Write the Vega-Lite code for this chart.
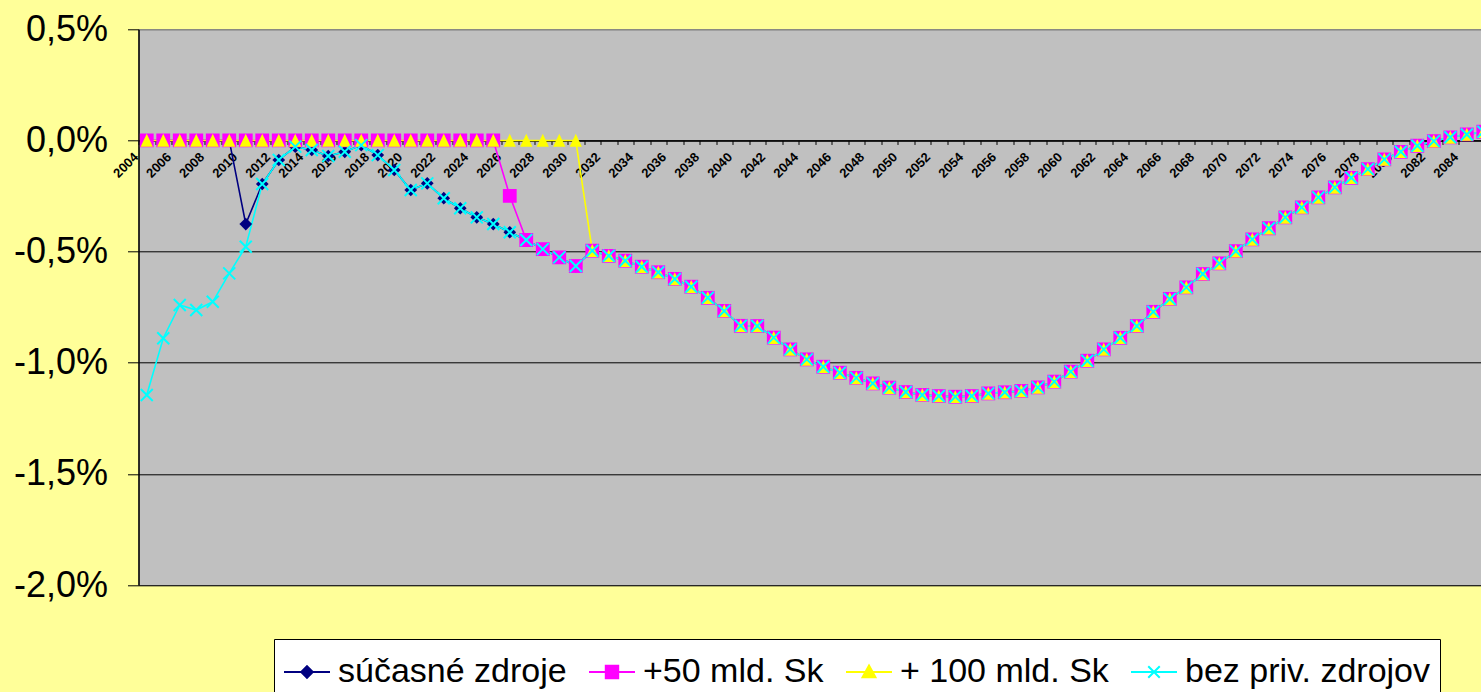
{
"$schema": "https://vega.github.io/schema/vega-lite/v6.json",
"width": 1342.5,
"height": 555.7,
"autosize": "none",
"padding": {"left": 138.5, "top": 29.3, "right": 0, "bottom": 107},
"background": "#FFFF99",
"config": {"view": {"fill": "#C0C0C0", "stroke": "#808080", "strokeWidth": 1}, "font": "Liberation Sans"},
"data": {"values": [
{"year":2004,"series":"súčasné zdroje","value":0},{"year":2005,"series":"súčasné zdroje","value":0},{"year":2006,"series":"súčasné zdroje","value":0},{"year":2007,"series":"súčasné zdroje","value":0},{"year":2008,"series":"súčasné zdroje","value":0},{"year":2009,"series":"súčasné zdroje","value":0},{"year":2010,"series":"súčasné zdroje","value":-0.376},{"year":2011,"series":"súčasné zdroje","value":-0.196},{"year":2012,"series":"súčasné zdroje","value":-0.088},{"year":2013,"series":"súčasné zdroje","value":-0.028},{"year":2014,"series":"súčasné zdroje","value":-0.043},{"year":2015,"series":"súčasné zdroje","value":-0.07},{"year":2016,"series":"súčasné zdroje","value":-0.051},{"year":2017,"series":"súčasné zdroje","value":-0.021},{"year":2018,"series":"súčasné zdroje","value":-0.066},{"year":2019,"series":"súčasné zdroje","value":-0.133},{"year":2020,"series":"súčasné zdroje","value":-0.223},{"year":2021,"series":"súčasné zdroje","value":-0.193},{"year":2022,"series":"súčasné zdroje","value":-0.26},{"year":2023,"series":"súčasné zdroje","value":-0.305},{"year":2024,"series":"súčasné zdroje","value":-0.346},{"year":2025,"series":"súčasné zdroje","value":-0.376},{"year":2026,"series":"súčasné zdroje","value":-0.413},{"year":2027,"series":"súčasné zdroje","value":-0.448},{"year":2028,"series":"súčasné zdroje","value":-0.489},{"year":2029,"series":"súčasné zdroje","value":-0.526},{"year":2030,"series":"súčasné zdroje","value":-0.565},{"year":2031,"series":"súčasné zdroje","value":-0.496},{"year":2032,"series":"súčasné zdroje","value":-0.519},{"year":2033,"series":"súčasné zdroje","value":-0.541},{"year":2034,"series":"súčasné zdroje","value":-0.568},{"year":2035,"series":"súčasné zdroje","value":-0.593},{"year":2036,"series":"súčasné zdroje","value":-0.623},{"year":2037,"series":"súčasné zdroje","value":-0.658},{"year":2038,"series":"súčasné zdroje","value":-0.708},{"year":2039,"series":"súčasné zdroje","value":-0.767},{"year":2040,"series":"súčasné zdroje","value":-0.834},{"year":2041,"series":"súčasné zdroje","value":-0.835},{"year":2042,"series":"súčasné zdroje","value":-0.887},{"year":2043,"series":"súčasné zdroje","value":-0.94},{"year":2044,"series":"súčasné zdroje","value":-0.985},{"year":2045,"series":"súčasné zdroje","value":-1.018},{"year":2046,"series":"súčasné zdroje","value":-1.045},{"year":2047,"series":"súčasné zdroje","value":-1.068},{"year":2048,"series":"súčasné zdroje","value":-1.093},{"year":2049,"series":"súčasné zdroje","value":-1.112},{"year":2050,"series":"súčasné zdroje","value":-1.132},{"year":2051,"series":"súčasné zdroje","value":-1.145},{"year":2052,"series":"súčasné zdroje","value":-1.15},{"year":2053,"series":"súčasné zdroje","value":-1.153},{"year":2054,"series":"súčasné zdroje","value":-1.15},{"year":2055,"series":"súčasné zdroje","value":-1.138},{"year":2056,"series":"súčasné zdroje","value":-1.133},{"year":2057,"series":"súčasné zdroje","value":-1.127},{"year":2058,"series":"súčasné zdroje","value":-1.111},{"year":2059,"series":"súčasné zdroje","value":-1.085},{"year":2060,"series":"súčasné zdroje","value":-1.04},{"year":2061,"series":"súčasné zdroje","value":-0.991},{"year":2062,"series":"súčasné zdroje","value":-0.94},{"year":2063,"series":"súčasné zdroje","value":-0.888},{"year":2064,"series":"súčasné zdroje","value":-0.835},{"year":2065,"series":"súčasné zdroje","value":-0.771},{"year":2066,"series":"súčasné zdroje","value":-0.713},{"year":2067,"series":"súčasné zdroje","value":-0.661},{"year":2068,"series":"súčasné zdroje","value":-0.601},{"year":2069,"series":"súčasné zdroje","value":-0.553},{"year":2070,"series":"súčasné zdroje","value":-0.498},{"year":2071,"series":"súčasné zdroje","value":-0.445},{"year":2072,"series":"súčasné zdroje","value":-0.395},{"year":2073,"series":"súčasné zdroje","value":-0.346},{"year":2074,"series":"súčasné zdroje","value":-0.301},{"year":2075,"series":"súčasné zdroje","value":-0.256},{"year":2076,"series":"súčasné zdroje","value":-0.211},{"year":2077,"series":"súčasné zdroje","value":-0.168},{"year":2078,"series":"súčasné zdroje","value":-0.129},{"year":2079,"series":"súčasné zdroje","value":-0.085},{"year":2080,"series":"súčasné zdroje","value":-0.051},{"year":2081,"series":"súčasné zdroje","value":-0.024},{"year":2082,"series":"súčasné zdroje","value":-0.003},{"year":2083,"series":"súčasné zdroje","value":0.014},{"year":2084,"series":"súčasné zdroje","value":0.027},{"year":2085,"series":"súčasné zdroje","value":0.039},
{"year":2004,"series":"+50 mld. Sk","value":0},{"year":2005,"series":"+50 mld. Sk","value":0},{"year":2006,"series":"+50 mld. Sk","value":0},{"year":2007,"series":"+50 mld. Sk","value":0},{"year":2008,"series":"+50 mld. Sk","value":0},{"year":2009,"series":"+50 mld. Sk","value":0},{"year":2010,"series":"+50 mld. Sk","value":0},{"year":2011,"series":"+50 mld. Sk","value":0},{"year":2012,"series":"+50 mld. Sk","value":0},{"year":2013,"series":"+50 mld. Sk","value":0},{"year":2014,"series":"+50 mld. Sk","value":0},{"year":2015,"series":"+50 mld. Sk","value":0},{"year":2016,"series":"+50 mld. Sk","value":0},{"year":2017,"series":"+50 mld. Sk","value":0},{"year":2018,"series":"+50 mld. Sk","value":0},{"year":2019,"series":"+50 mld. Sk","value":0},{"year":2020,"series":"+50 mld. Sk","value":0},{"year":2021,"series":"+50 mld. Sk","value":0},{"year":2022,"series":"+50 mld. Sk","value":0},{"year":2023,"series":"+50 mld. Sk","value":0},{"year":2024,"series":"+50 mld. Sk","value":0},{"year":2025,"series":"+50 mld. Sk","value":0},{"year":2026,"series":"+50 mld. Sk","value":-0.249},{"year":2027,"series":"+50 mld. Sk","value":-0.448},{"year":2028,"series":"+50 mld. Sk","value":-0.489},{"year":2029,"series":"+50 mld. Sk","value":-0.526},{"year":2030,"series":"+50 mld. Sk","value":-0.565},{"year":2031,"series":"+50 mld. Sk","value":-0.496},{"year":2032,"series":"+50 mld. Sk","value":-0.519},{"year":2033,"series":"+50 mld. Sk","value":-0.541},{"year":2034,"series":"+50 mld. Sk","value":-0.568},{"year":2035,"series":"+50 mld. Sk","value":-0.593},{"year":2036,"series":"+50 mld. Sk","value":-0.623},{"year":2037,"series":"+50 mld. Sk","value":-0.658},{"year":2038,"series":"+50 mld. Sk","value":-0.708},{"year":2039,"series":"+50 mld. Sk","value":-0.767},{"year":2040,"series":"+50 mld. Sk","value":-0.834},{"year":2041,"series":"+50 mld. Sk","value":-0.835},{"year":2042,"series":"+50 mld. Sk","value":-0.887},{"year":2043,"series":"+50 mld. Sk","value":-0.94},{"year":2044,"series":"+50 mld. Sk","value":-0.985},{"year":2045,"series":"+50 mld. Sk","value":-1.018},{"year":2046,"series":"+50 mld. Sk","value":-1.045},{"year":2047,"series":"+50 mld. Sk","value":-1.068},{"year":2048,"series":"+50 mld. Sk","value":-1.093},{"year":2049,"series":"+50 mld. Sk","value":-1.112},{"year":2050,"series":"+50 mld. Sk","value":-1.132},{"year":2051,"series":"+50 mld. Sk","value":-1.145},{"year":2052,"series":"+50 mld. Sk","value":-1.15},{"year":2053,"series":"+50 mld. Sk","value":-1.153},{"year":2054,"series":"+50 mld. Sk","value":-1.15},{"year":2055,"series":"+50 mld. Sk","value":-1.138},{"year":2056,"series":"+50 mld. Sk","value":-1.133},{"year":2057,"series":"+50 mld. Sk","value":-1.127},{"year":2058,"series":"+50 mld. Sk","value":-1.111},{"year":2059,"series":"+50 mld. Sk","value":-1.085},{"year":2060,"series":"+50 mld. Sk","value":-1.04},{"year":2061,"series":"+50 mld. Sk","value":-0.991},{"year":2062,"series":"+50 mld. Sk","value":-0.94},{"year":2063,"series":"+50 mld. Sk","value":-0.888},{"year":2064,"series":"+50 mld. Sk","value":-0.835},{"year":2065,"series":"+50 mld. Sk","value":-0.771},{"year":2066,"series":"+50 mld. Sk","value":-0.713},{"year":2067,"series":"+50 mld. Sk","value":-0.661},{"year":2068,"series":"+50 mld. Sk","value":-0.601},{"year":2069,"series":"+50 mld. Sk","value":-0.553},{"year":2070,"series":"+50 mld. Sk","value":-0.498},{"year":2071,"series":"+50 mld. Sk","value":-0.445},{"year":2072,"series":"+50 mld. Sk","value":-0.395},{"year":2073,"series":"+50 mld. Sk","value":-0.346},{"year":2074,"series":"+50 mld. Sk","value":-0.301},{"year":2075,"series":"+50 mld. Sk","value":-0.256},{"year":2076,"series":"+50 mld. Sk","value":-0.211},{"year":2077,"series":"+50 mld. Sk","value":-0.168},{"year":2078,"series":"+50 mld. Sk","value":-0.129},{"year":2079,"series":"+50 mld. Sk","value":-0.085},{"year":2080,"series":"+50 mld. Sk","value":-0.051},{"year":2081,"series":"+50 mld. Sk","value":-0.024},{"year":2082,"series":"+50 mld. Sk","value":-0.003},{"year":2083,"series":"+50 mld. Sk","value":0.014},{"year":2084,"series":"+50 mld. Sk","value":0.027},{"year":2085,"series":"+50 mld. Sk","value":0.039},
{"year":2004,"series":"+ 100 mld. Sk","value":0},{"year":2005,"series":"+ 100 mld. Sk","value":0},{"year":2006,"series":"+ 100 mld. Sk","value":0},{"year":2007,"series":"+ 100 mld. Sk","value":0},{"year":2008,"series":"+ 100 mld. Sk","value":0},{"year":2009,"series":"+ 100 mld. Sk","value":0},{"year":2010,"series":"+ 100 mld. Sk","value":0},{"year":2011,"series":"+ 100 mld. Sk","value":0},{"year":2012,"series":"+ 100 mld. Sk","value":0},{"year":2013,"series":"+ 100 mld. Sk","value":0},{"year":2014,"series":"+ 100 mld. Sk","value":0},{"year":2015,"series":"+ 100 mld. Sk","value":0},{"year":2016,"series":"+ 100 mld. Sk","value":0},{"year":2017,"series":"+ 100 mld. Sk","value":0},{"year":2018,"series":"+ 100 mld. Sk","value":0},{"year":2019,"series":"+ 100 mld. Sk","value":0},{"year":2020,"series":"+ 100 mld. Sk","value":0},{"year":2021,"series":"+ 100 mld. Sk","value":0},{"year":2022,"series":"+ 100 mld. Sk","value":0},{"year":2023,"series":"+ 100 mld. Sk","value":0},{"year":2024,"series":"+ 100 mld. Sk","value":0},{"year":2025,"series":"+ 100 mld. Sk","value":0},{"year":2026,"series":"+ 100 mld. Sk","value":0},{"year":2027,"series":"+ 100 mld. Sk","value":0},{"year":2028,"series":"+ 100 mld. Sk","value":0},{"year":2029,"series":"+ 100 mld. Sk","value":0},{"year":2030,"series":"+ 100 mld. Sk","value":0},{"year":2031,"series":"+ 100 mld. Sk","value":-0.496},{"year":2032,"series":"+ 100 mld. Sk","value":-0.519},{"year":2033,"series":"+ 100 mld. Sk","value":-0.541},{"year":2034,"series":"+ 100 mld. Sk","value":-0.568},{"year":2035,"series":"+ 100 mld. Sk","value":-0.593},{"year":2036,"series":"+ 100 mld. Sk","value":-0.623},{"year":2037,"series":"+ 100 mld. Sk","value":-0.658},{"year":2038,"series":"+ 100 mld. Sk","value":-0.708},{"year":2039,"series":"+ 100 mld. Sk","value":-0.767},{"year":2040,"series":"+ 100 mld. Sk","value":-0.834},{"year":2041,"series":"+ 100 mld. Sk","value":-0.835},{"year":2042,"series":"+ 100 mld. Sk","value":-0.887},{"year":2043,"series":"+ 100 mld. Sk","value":-0.94},{"year":2044,"series":"+ 100 mld. Sk","value":-0.985},{"year":2045,"series":"+ 100 mld. Sk","value":-1.018},{"year":2046,"series":"+ 100 mld. Sk","value":-1.045},{"year":2047,"series":"+ 100 mld. Sk","value":-1.068},{"year":2048,"series":"+ 100 mld. Sk","value":-1.093},{"year":2049,"series":"+ 100 mld. Sk","value":-1.112},{"year":2050,"series":"+ 100 mld. Sk","value":-1.132},{"year":2051,"series":"+ 100 mld. Sk","value":-1.145},{"year":2052,"series":"+ 100 mld. Sk","value":-1.15},{"year":2053,"series":"+ 100 mld. Sk","value":-1.153},{"year":2054,"series":"+ 100 mld. Sk","value":-1.15},{"year":2055,"series":"+ 100 mld. Sk","value":-1.138},{"year":2056,"series":"+ 100 mld. Sk","value":-1.133},{"year":2057,"series":"+ 100 mld. Sk","value":-1.127},{"year":2058,"series":"+ 100 mld. Sk","value":-1.111},{"year":2059,"series":"+ 100 mld. Sk","value":-1.085},{"year":2060,"series":"+ 100 mld. Sk","value":-1.04},{"year":2061,"series":"+ 100 mld. Sk","value":-0.991},{"year":2062,"series":"+ 100 mld. Sk","value":-0.94},{"year":2063,"series":"+ 100 mld. Sk","value":-0.888},{"year":2064,"series":"+ 100 mld. Sk","value":-0.835},{"year":2065,"series":"+ 100 mld. Sk","value":-0.771},{"year":2066,"series":"+ 100 mld. Sk","value":-0.713},{"year":2067,"series":"+ 100 mld. Sk","value":-0.661},{"year":2068,"series":"+ 100 mld. Sk","value":-0.601},{"year":2069,"series":"+ 100 mld. Sk","value":-0.553},{"year":2070,"series":"+ 100 mld. Sk","value":-0.498},{"year":2071,"series":"+ 100 mld. Sk","value":-0.445},{"year":2072,"series":"+ 100 mld. Sk","value":-0.395},{"year":2073,"series":"+ 100 mld. Sk","value":-0.346},{"year":2074,"series":"+ 100 mld. Sk","value":-0.301},{"year":2075,"series":"+ 100 mld. Sk","value":-0.256},{"year":2076,"series":"+ 100 mld. Sk","value":-0.211},{"year":2077,"series":"+ 100 mld. Sk","value":-0.168},{"year":2078,"series":"+ 100 mld. Sk","value":-0.129},{"year":2079,"series":"+ 100 mld. Sk","value":-0.085},{"year":2080,"series":"+ 100 mld. Sk","value":-0.051},{"year":2081,"series":"+ 100 mld. Sk","value":-0.024},{"year":2082,"series":"+ 100 mld. Sk","value":-0.003},{"year":2083,"series":"+ 100 mld. Sk","value":0.014},{"year":2084,"series":"+ 100 mld. Sk","value":0.027},{"year":2085,"series":"+ 100 mld. Sk","value":0.039},
{"year":2004,"series":"bez priv. zdrojov","value":-1.145},{"year":2005,"series":"bez priv. zdrojov","value":-0.89},{"year":2006,"series":"bez priv. zdrojov","value":-0.74},{"year":2007,"series":"bez priv. zdrojov","value":-0.763},{"year":2008,"series":"bez priv. zdrojov","value":-0.726},{"year":2009,"series":"bez priv. zdrojov","value":-0.598},{"year":2010,"series":"bez priv. zdrojov","value":-0.478},{"year":2011,"series":"bez priv. zdrojov","value":-0.196},{"year":2012,"series":"bez priv. zdrojov","value":-0.088},{"year":2013,"series":"bez priv. zdrojov","value":-0.028},{"year":2014,"series":"bez priv. zdrojov","value":-0.043},{"year":2015,"series":"bez priv. zdrojov","value":-0.07},{"year":2016,"series":"bez priv. zdrojov","value":-0.051},{"year":2017,"series":"bez priv. zdrojov","value":-0.021},{"year":2018,"series":"bez priv. zdrojov","value":-0.066},{"year":2019,"series":"bez priv. zdrojov","value":-0.133},{"year":2020,"series":"bez priv. zdrojov","value":-0.223},{"year":2021,"series":"bez priv. zdrojov","value":-0.193},{"year":2022,"series":"bez priv. zdrojov","value":-0.26},{"year":2023,"series":"bez priv. zdrojov","value":-0.305},{"year":2024,"series":"bez priv. zdrojov","value":-0.346},{"year":2025,"series":"bez priv. zdrojov","value":-0.376},{"year":2026,"series":"bez priv. zdrojov","value":-0.413},{"year":2027,"series":"bez priv. zdrojov","value":-0.448},{"year":2028,"series":"bez priv. zdrojov","value":-0.489},{"year":2029,"series":"bez priv. zdrojov","value":-0.526},{"year":2030,"series":"bez priv. zdrojov","value":-0.565},{"year":2031,"series":"bez priv. zdrojov","value":-0.496},{"year":2032,"series":"bez priv. zdrojov","value":-0.519},{"year":2033,"series":"bez priv. zdrojov","value":-0.541},{"year":2034,"series":"bez priv. zdrojov","value":-0.568},{"year":2035,"series":"bez priv. zdrojov","value":-0.593},{"year":2036,"series":"bez priv. zdrojov","value":-0.623},{"year":2037,"series":"bez priv. zdrojov","value":-0.658},{"year":2038,"series":"bez priv. zdrojov","value":-0.708},{"year":2039,"series":"bez priv. zdrojov","value":-0.767},{"year":2040,"series":"bez priv. zdrojov","value":-0.834},{"year":2041,"series":"bez priv. zdrojov","value":-0.835},{"year":2042,"series":"bez priv. zdrojov","value":-0.887},{"year":2043,"series":"bez priv. zdrojov","value":-0.94},{"year":2044,"series":"bez priv. zdrojov","value":-0.985},{"year":2045,"series":"bez priv. zdrojov","value":-1.018},{"year":2046,"series":"bez priv. zdrojov","value":-1.045},{"year":2047,"series":"bez priv. zdrojov","value":-1.068},{"year":2048,"series":"bez priv. zdrojov","value":-1.093},{"year":2049,"series":"bez priv. zdrojov","value":-1.112},{"year":2050,"series":"bez priv. zdrojov","value":-1.132},{"year":2051,"series":"bez priv. zdrojov","value":-1.145},{"year":2052,"series":"bez priv. zdrojov","value":-1.15},{"year":2053,"series":"bez priv. zdrojov","value":-1.153},{"year":2054,"series":"bez priv. zdrojov","value":-1.15},{"year":2055,"series":"bez priv. zdrojov","value":-1.138},{"year":2056,"series":"bez priv. zdrojov","value":-1.133},{"year":2057,"series":"bez priv. zdrojov","value":-1.127},{"year":2058,"series":"bez priv. zdrojov","value":-1.111},{"year":2059,"series":"bez priv. zdrojov","value":-1.085},{"year":2060,"series":"bez priv. zdrojov","value":-1.04},{"year":2061,"series":"bez priv. zdrojov","value":-0.991},{"year":2062,"series":"bez priv. zdrojov","value":-0.94},{"year":2063,"series":"bez priv. zdrojov","value":-0.888},{"year":2064,"series":"bez priv. zdrojov","value":-0.835},{"year":2065,"series":"bez priv. zdrojov","value":-0.771},{"year":2066,"series":"bez priv. zdrojov","value":-0.713},{"year":2067,"series":"bez priv. zdrojov","value":-0.661},{"year":2068,"series":"bez priv. zdrojov","value":-0.601},{"year":2069,"series":"bez priv. zdrojov","value":-0.553},{"year":2070,"series":"bez priv. zdrojov","value":-0.498},{"year":2071,"series":"bez priv. zdrojov","value":-0.445},{"year":2072,"series":"bez priv. zdrojov","value":-0.395},{"year":2073,"series":"bez priv. zdrojov","value":-0.346},{"year":2074,"series":"bez priv. zdrojov","value":-0.301},{"year":2075,"series":"bez priv. zdrojov","value":-0.256},{"year":2076,"series":"bez priv. zdrojov","value":-0.211},{"year":2077,"series":"bez priv. zdrojov","value":-0.168},{"year":2078,"series":"bez priv. zdrojov","value":-0.129},{"year":2079,"series":"bez priv. zdrojov","value":-0.085},{"year":2080,"series":"bez priv. zdrojov","value":-0.051},{"year":2081,"series":"bez priv. zdrojov","value":-0.024},{"year":2082,"series":"bez priv. zdrojov","value":-0.003},{"year":2083,"series":"bez priv. zdrojov","value":0.014},{"year":2084,"series":"bez priv. zdrojov","value":0.027},{"year":2085,"series":"bez priv. zdrojov","value":0.039}
]},
"encoding": {
  "x": {"field": "year", "type": "quantitative",
    "scale": {"domain": [2003.5, 2084.86], "nice": false, "zero": false},
    "axis": {"title": null, "grid": false,
      "values": [2004,2005,2006,2007,2008,2009,2010,2011,2012,2013,2014,2015,2016,2017,2018,2019,2020,2021,2022,2023,2024,2025,2026,2027,2028,2029,2030,2031,2032,2033,2034,2035,2036,2037,2038,2039,2040,2041,2042,2043,2044,2045,2046,2047,2048,2049,2050,2051,2052,2053,2054,2055,2056,2057,2058,2059,2060,2061,2062,2063,2064,2065,2066,2067,2068,2069,2070,2071,2072,2073,2074,2075,2076,2077,2078,2079,2080,2081,2082,2083,2084,2085],
      "labelExpr": "datum.value % 2 === 0 ? '' + datum.value : ''",
      "offset": -444.56, "tickOffset": -8.25, "labelOffset": -7,
      "tickSize": 4, "tickColor": "#000000", "tickWidth": 1,
      "domainColor": "#000000", "domainWidth": 1.5,
      "labelAngle": -45, "labelAlign": "right", "labelBaseline": "top",
      "labelFont": "Liberation Sans", "labelFontSize": 13, "labelFontWeight": "bold", "labelColor": "#000000",
      "labelPadding": 6, "labelOverlap": false, "labelFlush": false, "labelBound": false}},
  "y": {"field": "value", "type": "quantitative",
    "scale": {"domain": [-2, 0.5], "nice": false, "zero": false},
    "axis": {"title": null, "values": [-2, -1.5, -1, -0.5, 0, 0.5],
      "labelExpr": "(datum.value < 0 ? '-' : '') + replace(format(abs(datum.value), '.1f'), '.', ',') + '%'",
      "labelFont": "Liberation Sans", "labelFontSize": 36, "labelColor": "#000000", "labelPadding": 20,
      "tickSize": 11, "tickColor": "#000000", "tickWidth": 1,
      "domainColor": "#000000", "domainWidth": 1.5,
      "grid": true, "gridWidth": 1,
      "gridColor": {"condition": {"test": "datum.value > 0.4", "value": "#808080"}, "value": "#000000"},
      "labelOverlap": false}},
  "color": {"field": "series", "type": "nominal",
    "scale": {"domain": ["súčasné zdroje", "+50 mld. Sk", "+ 100 mld. Sk", "bez priv. zdrojov"], "range": ["#000080", "#FF00FF", "#FFFF00", "#00FFFF"]},
    "legend": {"title": null, "orient": "none", "legendX": 135.5, "legendY": 609.7, "direction": "horizontal", "columns": 4,
      "symbolSize": 2116, "symbolStrokeWidth": 2, "labelFont": "Liberation Sans", "labelFontSize": 34, "labelColor": "#000000",
      "labelLimit": 600, "labelOffset": 7, "columnPadding": 18, "padding": 9, "strokeColor": "#000000", "fillColor": "#FFFFFF",
      "encode": {"symbols": {"update": {
        "shape": {"signal": "datum.value === 'súčasné zdroje' ? 'M-1,0L1,0M0,-0.25L0.25,0L0,0.25L-0.25,0Z' : datum.value === '+50 mld. Sk' ? 'M-1,0L1,0M-0.27,-0.27L0.27,-0.27L0.27,0.27L-0.27,0.27Z' : datum.value === '+ 100 mld. Sk' ? 'M-1,0L1,0M0,-0.28L0.28,0.23L-0.28,0.23Z' : 'M-1,0L1,0M-0.25,-0.25L0.25,0.25M-0.25,0.25L0.25,-0.25'"},
        "fill": {"signal": "datum.value === 'bez priv. zdrojov' ? 'transparent' : scale('color', datum.value)"},
        "stroke": {"signal": "scale('color', datum.value)"},
        "strokeWidth": {"value": 2},
        "opacity": {"value": 1},
        "size": {"value": 2116}}}}}}
},
"layer": [
  {"mark": {"type": "line", "clip": true, "strokeWidth": 1.6}},
  {"transform": [{"filter": "datum.series !== 'bez priv. zdrojov'"}],
   "mark": {"type": "point", "filled": true, "opacity": 1, "size": 144, "clip": true},
   "encoding": {"shape": {"field": "series", "type": "nominal", "legend": null,
     "scale": {"domain": ["súčasné zdroje", "+50 mld. Sk", "+ 100 mld. Sk"],
       "range": ["M0,-1.06L1.06,0L0,1.06L-1.06,0Z", "M-1.15,-1.15L1.15,-1.15L1.15,1.15L-1.15,1.15Z", "M0,-1.1L1.02,1.05L-1.02,1.05Z"]}}}},
  {"transform": [{"filter": "datum.series === 'bez priv. zdrojov'"}],
   "mark": {"type": "point", "filled": false, "opacity": 1, "size": 144, "strokeWidth": 2, "clip": true, "shape": "M-1,-1L1,1M-1,1L1,-1"}}
]
}
